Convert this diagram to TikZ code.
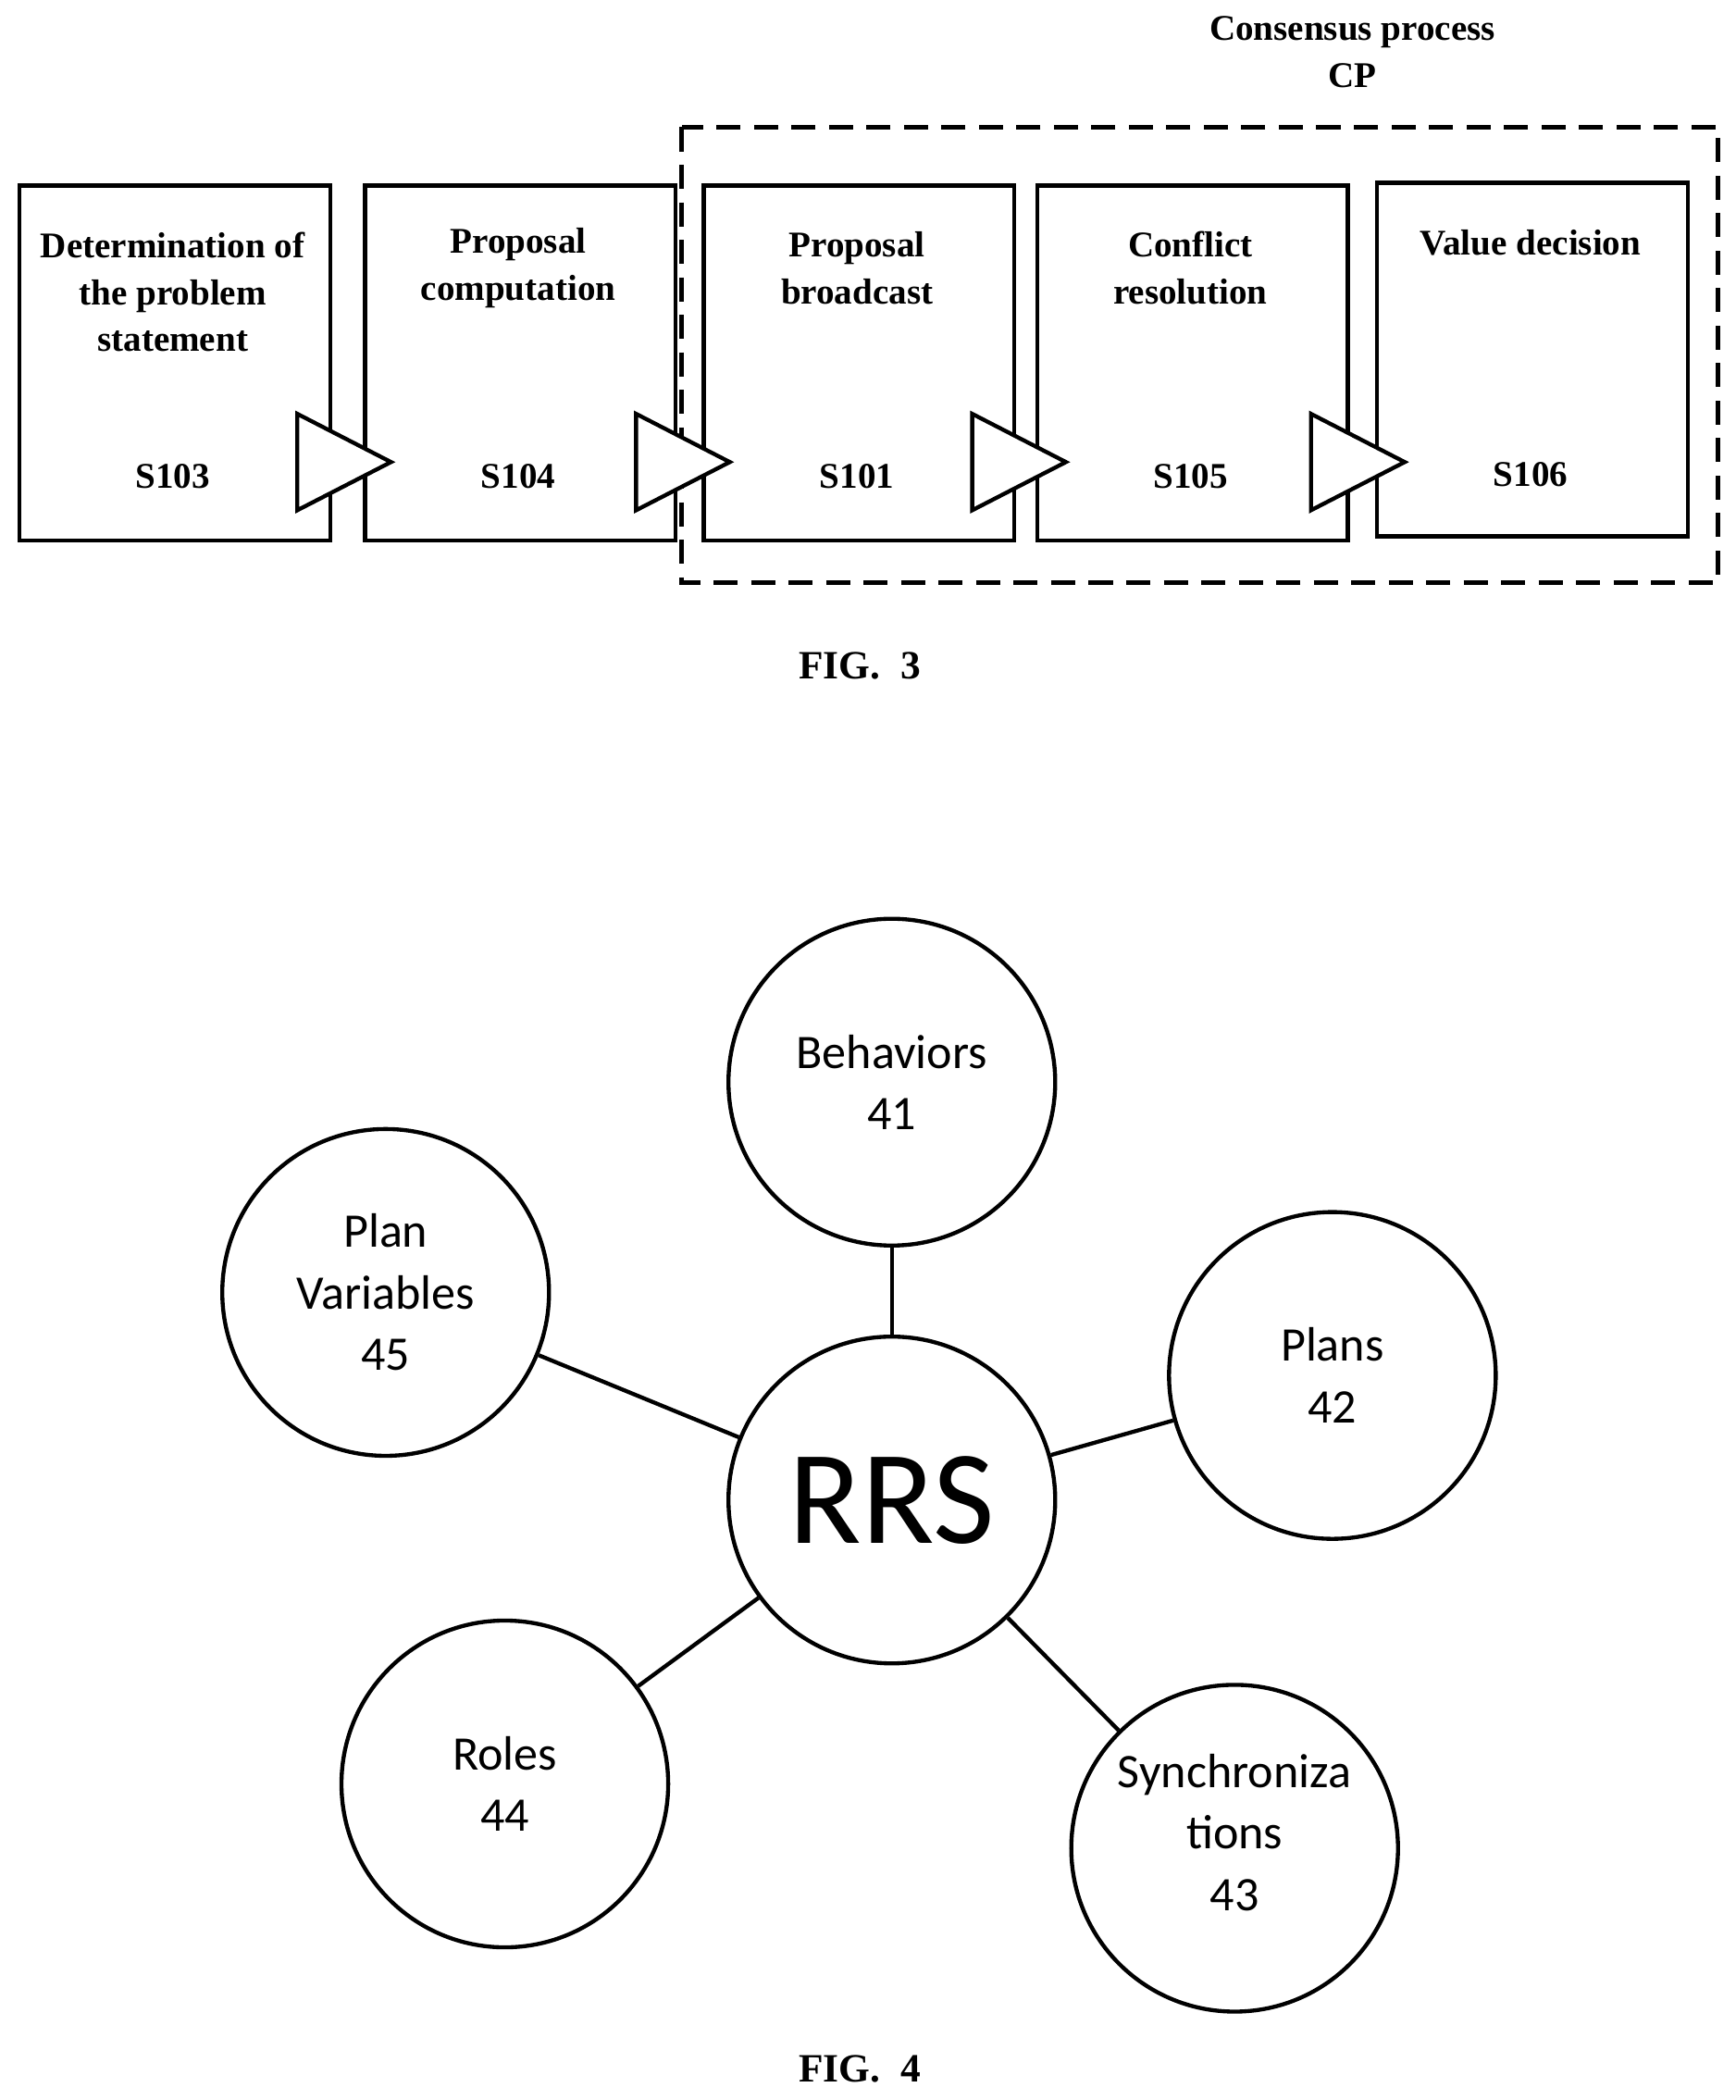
\documentclass[tikz,border=0pt]{standalone}
\usepackage{fontspec}
\setmainfont{Liberation Serif}
\newfontfamily\circfont{Carlito}
\begin{document}
\begin{tikzpicture}[x=1pt,y=-1pt,
 box/.style={draw,line width=3pt,minimum width=232pt,minimum height=265pt,anchor=north west},
 ttl/.style={font=\fontsize{27}{35}\selectfont\bfseries,align=center},
 tri/.style={draw,fill=white,line width=3pt,line join=miter},
 circ/.style={draw,circle,line width=3pt,minimum size=244pt,inner sep=0pt,font=\circfont\fontsize{36}{46}\selectfont,align=center},
 lnk/.style={line width=3pt}]
\useasboundingbox (0,0) rectangle (1296,1568);
\node[ttl] (cp) at (1010,39) {Consensus process\\CP};
\draw[line width=3pt,dash pattern=on 18pt off 10pt] (509,95) rectangle (1283,435);
\node[box] (b1) at (13,137) {};
\node[box] (b2) at (271,137) {};
\node[box] (b3) at (524,137) {};
\node[box] (b4) at (773,137) {};
\node[box,minimum height=264pt] (b5) at (1027,135) {};
\node[ttl] (t1) at (129,218) {Determination of\\the problem\\statement};
\node[ttl] (t2) at (387,200) {Proposal\\computation};
\node[ttl] (t3) at (640,200) {Proposal\\broadcast};
\node[ttl] (t4) at (889,200) {Conflict\\resolution};
\node[ttl] (t5) at (1143,181) {Value decision};
\node[ttl] (s1) at (129,356) {S103};
\node[ttl] (s2) at (387,356) {S104};
\node[ttl] (s3) at (640,356) {S101};
\node[ttl] (s4) at (889,356) {S105};
\node[ttl] (s5) at (1143,354) {S106};
\foreach \x in {222,475,726,979}{\draw[tri] (\x,309) -- (\x+70,345) -- (\x,381) -- cycle;}
\node[ttl,font=\fontsize{30}{35}\selectfont\bfseries] (f3) at (642,497) {FIG.\ \ 3};
\node[circ] (rrs) at (666,1120) {\fontsize{100}{100}\selectfont RRS};
\node[circ] (beh) at (666,808) {Behaviors\\41};
\node[circ] (pv) at (288,965) {Plan\\Variables\\45};
\node[circ] (pl) at (995,1027) {Plans\\42};
\node[circ] (ro) at (377,1332) {Roles\\44};
\node[circ] (sy) at (922,1380) {\raisebox{0pt}{Synchroniza}\\tions\\43\\[-22pt]};
\foreach \n in {beh,pv,pl,ro,sy}{\draw[lnk] (rrs) -- (\n);}
\node[ttl,font=\fontsize{30}{35}\selectfont\bfseries] (f4) at (642,1545) {FIG.\ \ 4};
\end{tikzpicture}
\end{document}
